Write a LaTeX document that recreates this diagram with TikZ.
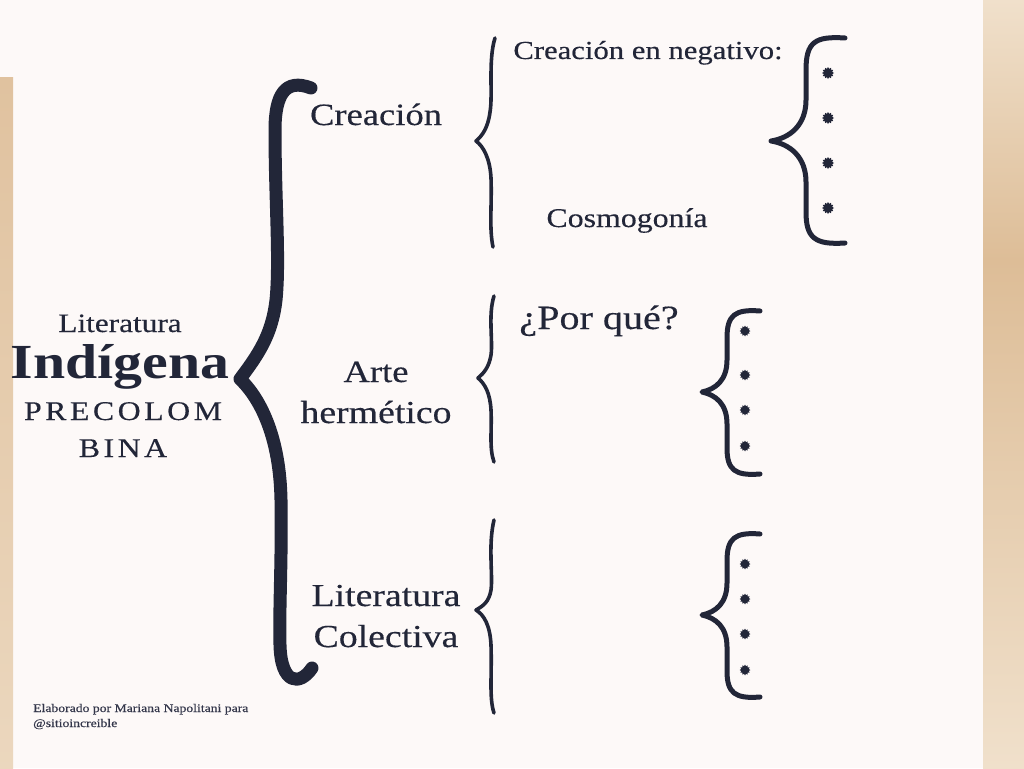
\documentclass[tikz,border=0pt]{standalone}
\usepackage{fontspec}
\setmainfont[FakeStretch=1.18, UprightFeatures={FakeBold=0.35}]{Liberation Serif}
\usetikzlibrary{shapes.geometric}
\definecolor{ink}{HTML}{222638}
\definecolor{inksoft}{HTML}{33364A}
\definecolor{paper}{HTML}{FDF9F8}
\definecolor{sand}{HTML}{E0C29F}
\definecolor{sanddark}{HTML}{DDBD97}
\definecolor{sandlight}{HTML}{F0E0CB}
\newcommand{\spc}{\kern3.5pt}
\begin{document}
\begin{tikzpicture}[x=1pt,y=-1pt,
  lbl/.style={inner sep=0pt, anchor=base, text=ink, font=\fontsize{#1}{#1}\selectfont},
  bigbrace/.style={draw=ink, line width=13pt, line cap=round, line join=round},
  midbrace/.style={draw=ink, line width=3.6pt, line cap=round, line join=round},
  smallbrace/.style={draw=ink, line width=5pt, line cap=round, line join=round},
  bulletstar/.style={star, star points=12, star point ratio=1.4, minimum size=12pt, inner sep=0pt, fill=ink}]
\useasboundingbox (0,0) rectangle (1024,768);
\fill[paper] (0,0) rectangle (1024,768);
% side strips
\shade[top color=sand, bottom color=sandlight!70!sand] (0,77) rectangle (13,768);
\shade[top color=sandlight, bottom color=sanddark] (983,0) rectangle (1024,260);
\shade[top color=sanddark, bottom color=sandlight] (983,260) rectangle (1024,768);
% big brace
\draw[bigbrace] (311,88) .. controls (285,78) and (275,95) .. (275,130)
  .. controls (275,200) and (280,260) .. (276,300)
  .. controls (272,335) and (258,355) .. (240,379)
  .. controls (262,400) and (280,440) .. (281,500)
  .. controls (282,560) and (279,610) .. (280,645)
  .. controls (281,685) and (300,686) .. (312,668);
% medium braces
\draw[midbrace] (495,38) .. controls (488,60) and (493,95) .. (490,112)
  .. controls (488,128) and (482,136) .. (476,141)
  .. controls (483,146) and (490,158) .. (491,178)
  .. controls (492,205) and (489,228) .. (493,247);
\draw[midbrace] (494,296) .. controls (488,315) and (493,340) .. (491,355)
  .. controls (489,367) and (484,373) .. (478,378)
  .. controls (485,384) and (490,393) .. (491,410)
  .. controls (492,430) and (489,448) .. (494,462);
\draw[midbrace] (494,520) .. controls (488,545) and (493,575) .. (491,590)
  .. controls (489,602) and (483,606) .. (476,610)
  .. controls (484,615) and (490,625) .. (491,645)
  .. controls (492,675) and (489,698) .. (494,713);
% small braces
\draw[smallbrace] (845,38) .. controls (815,36) and (806,42) .. (806,70) -- (806,100)
  .. controls (806,125) and (790,138) .. (771,141)
  .. controls (790,144) and (806,157) .. (806,182) -- (806,212)
  .. controls (806,238) and (815,245) .. (845,243);
\draw[smallbrace] (760,311) .. controls (735,309) and (727,315) .. (727,338) -- (727,360)
  .. controls (727,380) and (716,389) .. (702,392)
  .. controls (716,395) and (727,404) .. (727,424) -- (727,448)
  .. controls (727,470) and (735,476) .. (760,474);
\draw[smallbrace] (760,534) .. controls (735,532) and (727,538) .. (727,561) -- (727,583)
  .. controls (727,603) and (716,612) .. (702,615)
  .. controls (716,618) and (727,627) .. (727,647) -- (727,671)
  .. controls (727,693) and (735,699) .. (760,697);
% bullets
\node[bulletstar] (b11) at (828,73) {};
\node[bulletstar] (b12) at (828,118) {};
\node[bulletstar] (b13) at (828,163) {};
\node[bulletstar] (b14) at (828,208) {};
\node[bulletstar, scale=0.9] (b21) at (745,331) {};
\node[bulletstar, scale=0.9] (b22) at (745,375) {};
\node[bulletstar, scale=0.9] (b23) at (745,410) {};
\node[bulletstar, scale=0.9] (b24) at (745,446) {};
\node[bulletstar, scale=0.9] (b31) at (745,564) {};
\node[bulletstar, scale=0.9] (b32) at (745,599) {};
\node[bulletstar, scale=0.9] (b33) at (745,634) {};
\node[bulletstar, scale=0.9] (b34) at (745,670) {};
% title
\node[lbl=26.5] (lit) at (120,332) {Literatura};
\node[lbl=49] (ind) at (120,378) {\bfseries Indígena};
\node[lbl=27] (pre) at (123,420) {P\spc R\spc E\spc C\spc O\spc L\spc O\spc M};
\node[lbl=27] (bina) at (123,457) {B\spc I\spc N\spc A};
% level 1
\node[lbl=31] (crea) at (376,125) {Creación};
\node[lbl=31] (arte) at (376,382) {Arte};
\node[lbl=32] (herm) at (376,423) {hermético};
\node[lbl=32] (litc) at (386,606) {Literatura};
\node[lbl=32] (cole) at (386,647) {Colectiva};
% level 2
\node[lbl=26] (neg) at (648,59) {Creación en negativo:};
\node[lbl=27] (cosmo) at (627,227) {Cosmogonía};
\node[lbl=34] (porq) at (599,329) {¿Por qué?};
% footer
\node[inner sep=0pt, anchor=base west, text=inksoft, font=\fontsize{11.6}{11.6}\selectfont] (f1) at (33,712) {Elaborado por Mariana Napolitani para};
\node[inner sep=0pt, anchor=base west, text=inksoft, font=\fontsize{11.6}{11.6}\selectfont] (f2) at (33,727) {@sitioincreible};
\end{tikzpicture}
\end{document}
